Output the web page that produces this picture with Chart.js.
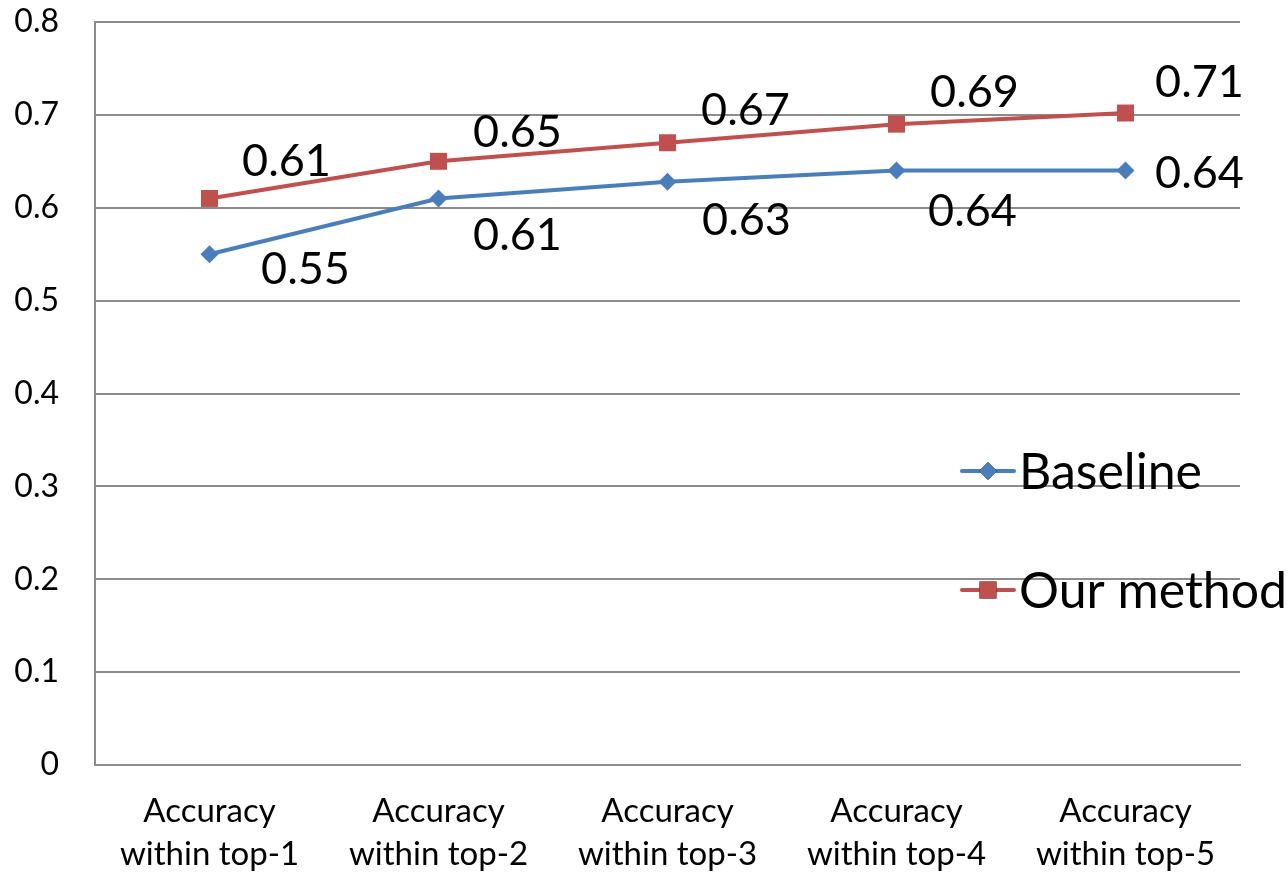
<!DOCTYPE html>
<html>
<head>
<meta charset="utf-8">
<script src="https://cdn.jsdelivr.net/npm/chart.js@4/dist/chart.umd.min.js"></script>
<style>
  html, body { margin: 0; padding: 0; background: #fff; }
  canvas { display: block; }
</style>
</head>
<body>
<canvas id="acc-chart" width="1288" height="873"></canvas>
<script>
// categories and series
const categories = [
  ['Accuracy', 'within top-1'],
  ['Accuracy', 'within top-2'],
  ['Accuracy', 'within top-3'],
  ['Accuracy', 'within top-4'],
  ['Accuracy', 'within top-5']
];
const baselineValues = [0.55, 0.61, 0.628, 0.64, 0.64];
const ourMethodValues = [0.61, 0.65, 0.67, 0.69, 0.702];
// point labels as printed on the chart
const baselineLabels = ['0.55', '0.61', '0.63', '0.64', '0.64'];
const ourMethodLabels = ['0.61', '0.65', '0.67', '0.69', '0.71'];
const yTickLabels = ['0', '0.1', '0.2', '0.3', '0.4', '0.5', '0.6', '0.7', '0.8'];

const FONT = 'Lato, "Noto Sans", sans-serif';
const BLUE = '#4a7ebb';
const RED = '#c0504d';
const GRID = '#8c8c8c';

// label offsets from the point (px), like the excel chart placed them
const labelOffsets = [
  [[96, 15], [79, 37], [79, 39], [76, 41], [74, 3]],
  [[77, -37], [79, -29], [78, -32], [78, -32], [74, -31]]
];
const pointLabels = [baselineLabels, ourMethodLabels];

const valueLabelPlugin = {
  id: 'valueLabels',
  afterDatasetsDraw(chart) {
    const ctx = chart.ctx;
    ctx.save();
    ctx.font = '45px ' + FONT;
    ctx.fillStyle = '#000';
    ctx.textAlign = 'center';
    ctx.textBaseline = 'middle';
    chart.data.datasets.forEach(function(ds, di) {
      const meta = chart.getDatasetMeta(di);
      meta.data.forEach(function(pt, i) {
        const off = labelOffsets[di][i];
        ctx.fillText(pointLabels[di][i], pt.x + off[0], pt.y + off[1]);
      });
    });
    ctx.restore();
  }
};

// legend sitting inside the plot on the right
const legendPlugin = {
  id: 'sideLegend',
  afterDraw(chart) {
    const ctx = chart.ctx;
    const rows = [471, 590];
    ctx.save();
    chart.data.datasets.forEach(function(ds, di) {
      const y = rows[di];
      ctx.strokeStyle = ds.borderColor;
      ctx.lineWidth = ds.borderWidth;
      ctx.lineCap = 'round';
      ctx.beginPath();
      ctx.moveTo(962, y);
      ctx.lineTo(1014, y);
      ctx.stroke();
      Chart.helpers.drawPoint(ctx, {
        pointStyle: ds.pointStyle,
        radius: ds.pointRadius,
        rotation: 0,
        borderWidth: 0
      }, 988, y);
      ctx.fillStyle = ds.pointBackgroundColor;
      ctx.fill();
      ctx.fillStyle = '#000';
      ctx.font = '50px ' + FONT;
      ctx.textAlign = 'left';
      ctx.textBaseline = 'middle';
      ctx.fillText(ds.label, 1019, y + 2);
    });
    ctx.restore();
  }
};

new Chart(document.getElementById('acc-chart'), {
  type: 'line',
  data: {
    labels: categories,
    datasets: [
      {
        label: 'Baseline',
        data: baselineValues,
        borderColor: BLUE,
        backgroundColor: BLUE,
        pointBackgroundColor: BLUE,
        pointBorderColor: BLUE,
        borderWidth: 4,
        pointStyle: 'rectRot',
        pointRadius: 9,
        pointBorderWidth: 0,
        tension: 0
      },
      {
        label: 'Our method',
        data: ourMethodValues,
        borderColor: RED,
        backgroundColor: RED,
        pointBackgroundColor: RED,
        pointBorderColor: RED,
        borderWidth: 4,
        pointStyle: 'rect',
        pointRadius: 12,
        pointBorderWidth: 0,
        tension: 0
      }
    ]
  },
  options: {
    responsive: false,
    animation: false,
    layout: { padding: { top: 22, right: 48, left: 0, bottom: 0 } },
    plugins: {
      legend: { display: false },
      tooltip: { enabled: false }
    },
    scales: {
      x: {
        offset: true,
        grid: { display: false },
        border: { display: true, color: GRID, width: 2 },
        ticks: {
          color: '#000',
          font: { family: FONT, size: 33, lineHeight: 1.3 },
          padding: 17,
          maxRotation: 0,
          autoSkip: false
        },
        afterFit(scale) {
          scale.height = 108;
          scale.paddingLeft = 0;
          scale.paddingRight = 0;
        }
      },
      y: {
        min: 0,
        max: 0.8,
        grid: { color: GRID, lineWidth: 2, drawTicks: false },
        border: { display: true, color: GRID, width: 2 },
        ticks: {
          stepSize: 0.1,
          color: '#000',
          padding: 36,
          font: { family: FONT, size: 32 },
          callback: function(v, i) { return yTickLabels[i]; }
        },
        afterFit(scale) {
          scale.width = 95;
          scale.paddingTop = 0;
          scale.paddingBottom = 0;
        }
      }
    }
  },
  plugins: [valueLabelPlugin, legendPlugin]
});
</script>
</body>
</html>
